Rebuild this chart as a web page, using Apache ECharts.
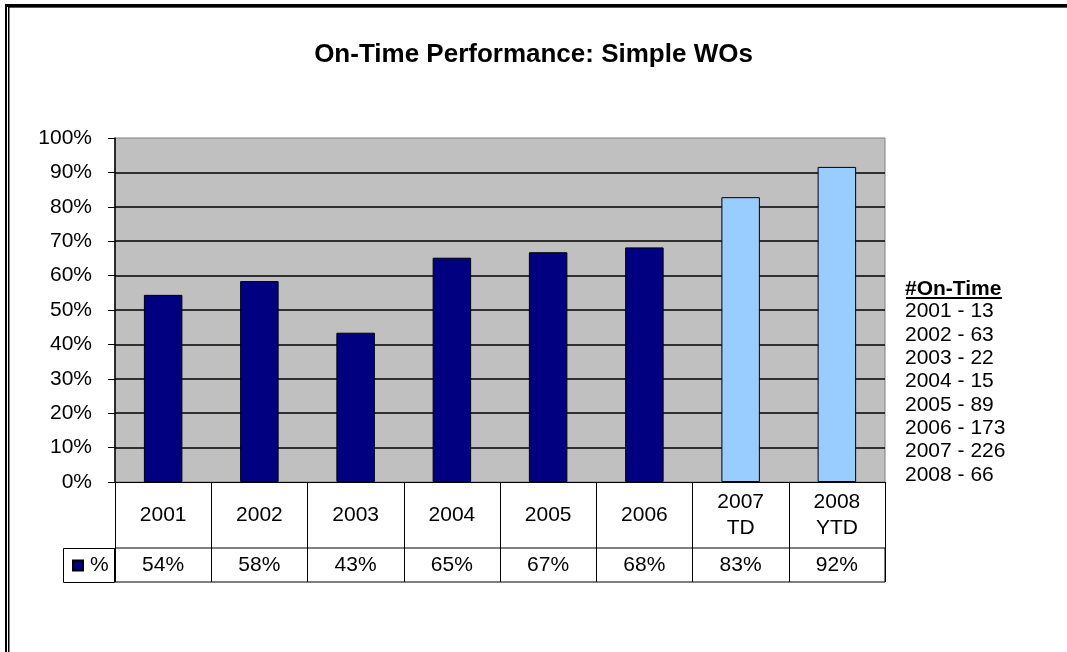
<!DOCTYPE html>
<html>
<head>
<meta charset="utf-8">
<title>On-Time Performance</title>
<script src="https://cdn.jsdelivr.net/npm/echarts@6/dist/echarts.min.js"></script>
<style>
  html, body { margin: 0; padding: 0; background: #fff; }
  #chart { width: 1067px; height: 652px; }
</style>
</head>
<body>
<div id="chart"></div>
<script>
var categories = ['2001', '2002', '2003', '2004', '2005', '2006', '2007\nTD', '2008\nYTD'];
var pctValues = [54.4, 58.4, 43.4, 65.2, 66.8, 68.2, 82.8, 91.6];
var yTicks = [0, 10, 20, 30, 40, 50, 60, 70, 80, 90, 100];
var onTimeYears = ['2001', '2002', '2003', '2004', '2005', '2006', '2007', '2008'];
var onTimeCounts = [13, 63, 22, 15, 89, 173, 226, 66];

var font = 'Liberation Sans, Arial, sans-serif';
var navy = '#000080';
var lightBlue = '#99CCFF';

function init(){
	var barData = pctValues.map(function(v, i){
		return {
			value: v,
			itemStyle: { color: i >= 6 ? lightBlue : navy }
		};
	});
	// table values sit in the middle of the second grid
	var tableData = pctValues.map(function(v, i){ return [i, 0.5, v]; });
	var onTimeLines = onTimeYears.map(function(y, i){ return y + ' - ' + onTimeCounts[i]; });

	var option = {
		animation: false,
		backgroundColor: '#fff',
		textStyle: { fontFamily: font },
		title: {
			text: 'On-Time Performance: Simple WOs',
			left: 'center',
			top: 37,
			textStyle: { color: '#000', fontWeight: 'bold', fontSize: 26, fontFamily: font }
		},
		legend: {
			data: ['%'],
			left: 72,
			top: 555,
			padding: 0,
			icon: 'rect',
			itemWidth: 10,
			itemHeight: 10,
			itemGap: 0,
			textStyle: { color: '#000', fontSize: 21, fontFamily: font, padding: [0, 0, 0, 2] },
			selectedMode: false
		},
		grid: [
			{
				left: 115, right: 182, top: 138, bottom: 170,
				show: true,
				backgroundColor: '#C0C0C0',
				borderColor: '#808080',
				borderWidth: 1
			},
			{
				left: 115, right: 182, top: 548, bottom: 70,
				show: true,
				backgroundColor: '#fff',
				borderColor: '#000',
				borderWidth: 1
			}
		],
		xAxis: [
			{
				type: 'category',
				gridIndex: 0,
				data: categories,
				axisLine: { lineStyle: { color: '#000', width: 1 } },
				axisTick: { show: true, length: 66, lineStyle: { color: '#000', width: 1 } },
				axisLabel: {
					color: '#000',
					fontSize: 21,
					fontFamily: font,
					margin: 33,
					verticalAlign: 'middle',
					lineHeight: 26,
					interval: 0
				},
				splitLine: { show: false }
			},
			{
				type: 'category',
				gridIndex: 1,
				data: categories,
				axisLine: { show: false },
				axisTick: { show: false },
				axisLabel: { show: false },
				splitLine: { show: true, lineStyle: { color: '#000', width: 1 } }
			}
		],
		yAxis: [
			{
				type: 'value',
				gridIndex: 0,
				min: yTicks[0],
				max: yTicks[yTicks.length - 1],
				interval: 10,
				axisLine: { show: true, lineStyle: { color: '#000', width: 1.5 } },
				axisTick: { show: true, length: 7, lineStyle: { color: '#000' } },
				axisLabel: {
					color: '#000',
					fontSize: 21,
					fontFamily: font,
					margin: 23,
					formatter: '{value}%'
				},
				splitLine: {
					show: true,
					showMinLine: false,
					showMaxLine: false,
					lineStyle: { color: '#000', width: 1.5 }
				}
			},
			{
				type: 'value',
				gridIndex: 1,
				min: 0,
				max: 1,
				show: false
			}
		],
		series: [
			{
				name: '%',
				type: 'bar',
				xAxisIndex: 0,
				yAxisIndex: 0,
				barWidth: '40%',
				data: barData,
				itemStyle: { color: navy, borderColor: '#000', borderWidth: 1 }
			},
			{
				name: 'table',
				type: 'scatter',
				xAxisIndex: 1,
				yAxisIndex: 1,
				symbolSize: 0,
				data: tableData,
				silent: true,
				itemStyle: { opacity: 1 },
				label: {
					show: true,
					position: 'inside',
					color: '#000',
					opacity: 1,
					fontSize: 21,
					fontFamily: font,
					formatter: function(p){ return Math.round(p.value[2]) + '%'; }
				}
			}
		],
		graphic: [
			// outer frame, top and left
			{ type: 'rect', shape: { x: 5, y: 4, width: 1062, height: 3 }, style: { fill: '#000' } },
			{ type: 'rect', shape: { x: 8, y: 7, width: 1059, height: 1 }, style: { fill: '#555' } },
			{ type: 'rect', shape: { x: 5, y: 4, width: 2, height: 648 }, style: { fill: '#000' } },
			{ type: 'rect', shape: { x: 8, y: 7, width: 1.5, height: 645 }, style: { fill: '#000' } },
			// legend key cell of the data table
			{
				type: 'rect',
				shape: { x: 63.5, y: 548.5, width: 51, height: 34 },
				style: { fill: 'none', stroke: '#000', lineWidth: 1 },
				z: 0
			},
			// #On-Time note
			{
				type: 'text',
				left: 905,
				top: 279,
				style: {
					text: '#On-Time',
					fill: '#000',
					font: 'bold 21px ' + font
				}
			},
			{
				type: 'rect',
				shape: { x: 906, y: 297, width: 96, height: 2 },
				style: { fill: '#000' }
			},
			{
				type: 'text',
				left: 905,
				top: 300,
				style: {
					text: onTimeLines.join('\n'),
					fill: '#000',
					font: '21px ' + font,
					lineHeight: 23.3
				}
			}
		]
	};

	var myChart = echarts.init(document.getElementById('chart'));
	myChart.setOption(option);
}

init();
</script>
</body>
</html>
